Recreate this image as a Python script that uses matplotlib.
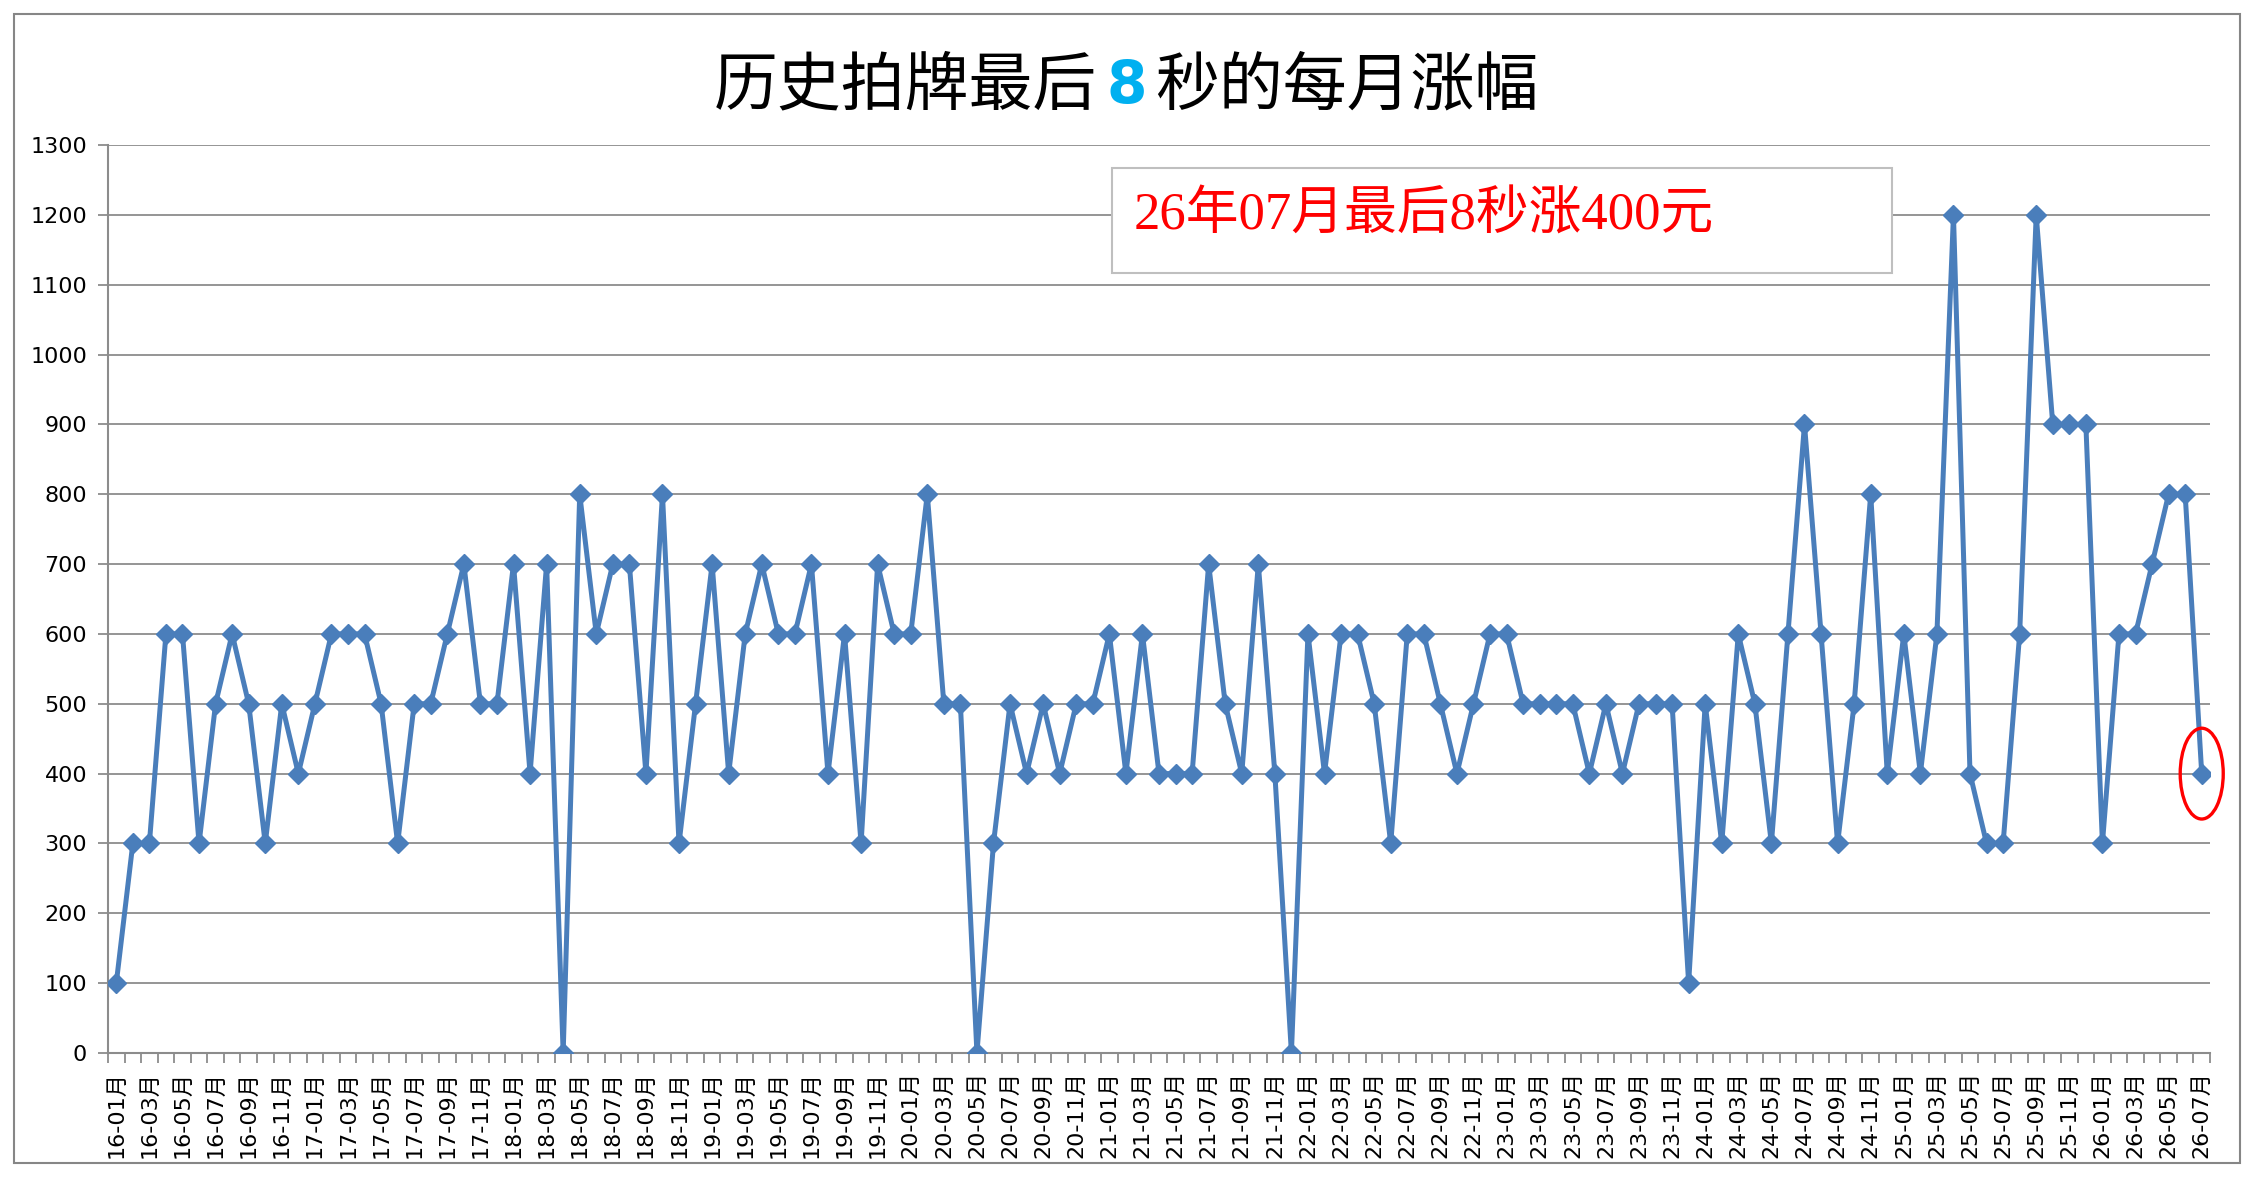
import matplotlib
matplotlib.use("Agg")
import matplotlib.pyplot as plt
from matplotlib.patches import Rectangle, Ellipse
from matplotlib.ticker import FixedLocator

plt.rcParams['font.family'] = ['DejaVu Sans', 'Noto Sans CJK SC']

#----------------------------------------------------
# monthly rise in the last 8 seconds, 2016-01 .. 2026-07
rise = [100, 300, 300, 600, 600, 300, 500, 600, 500, 300, 500, 400,   # 2016
        500, 600, 600, 600, 500, 300, 500, 500, 600, 700, 500, 500,   # 2017
        700, 400, 700, 0, 800, 600, 700, 700, 400, 800, 300, 500,     # 2018
        700, 400, 600, 700, 600, 600, 700, 400, 600, 300, 700, 600,   # 2019
        600, 800, 500, 500, 0, 300, 500, 400, 500, 400, 500, 500,     # 2020
        600, 400, 600, 400, 400, 400, 700, 500, 400, 700, 400, 0,     # 2021
        600, 400, 600, 600, 500, 300, 600, 600, 500, 400, 500, 600,   # 2022
        600, 500, 500, 500, 500, 400, 500, 400, 500, 500, 500, 100,   # 2023
        500, 300, 600, 500, 300, 600, 900, 600, 300, 500, 800, 400,   # 2024
        600, 400, 600, 1200, 400, 300, 300, 600, 1200, 900, 900, 900, # 2025
        300, 600, 600, 700, 800, 800, 400]                            # 2026

months = ["%02d-%02d月" % (y, m) for y in range(16, 27) for m in range(1, 13)]
months = months[:len(rise)]

yticks = list(range(0, 1301, 100))

title_left = "历史拍牌最后"
title_mid = "8"
title_right = "秒的每月涨幅"
note = "26年07月最后8秒涨400元"

W, H = 2256, 1180
fig = plt.figure(figsize=(W / 100, H / 100), dpi=100)

# chart border
fig.patches.append(Rectangle((14 / W, 17 / H), (2240 - 14) / W, (1166 - 17) / H,
                             transform=fig.transFigure, fill=False,
                             edgecolor="#868686", linewidth=1.5))

ax = fig.add_axes([108 / W, 127 / H, (2210 - 108) / W, (1035 - 127) / H])

x = list(range(len(rise)))
ax.plot(x, rise, color="#4A7EBB", linewidth=3.6, marker="D", markersize=10,
        markerfacecolor="#4A7EBB", markeredgecolor="#4A7EBB", zorder=3)

ax.set_xlim(-0.5, len(rise) - 0.5)
ax.set_ylim(0, 1300)
ax.set_yticks(yticks)
ax.set_yticklabels([str(v) for v in yticks], fontsize=16)
ax.yaxis.grid(True, color="#8C8C8C", linewidth=1.3)
ax.set_axisbelow(True)

ax.xaxis.set_major_locator(FixedLocator(x[::2]))
ax.set_xticklabels(months[::2], rotation=90, fontsize=16)
ax.xaxis.set_minor_locator(FixedLocator([i - 0.5 for i in range(len(rise) + 1)]))
ax.tick_params(axis="x", which="major", length=0, pad=13)
ax.tick_params(axis="x", which="minor", length=7, width=1.3, color="#8C8C8C")
ax.tick_params(axis="y", length=7, width=1.3, color="#8C8C8C", pad=8)

for s in ["top", "right"]:
    ax.spines[s].set_visible(False)
for s in ["left", "bottom"]:
    ax.spines[s].set_color("#8C8C8C")
    ax.spines[s].set_linewidth(1.5)

# title in three parts
cx = 1127 / W
ty = 1094 / H
fig.text(cx, ty, title_mid, color="#00B0F0", fontsize=42, fontweight="bold",
         ha="center", va="center")
fig.text(cx - 30 / W, ty, title_left, color="black", fontsize=46,
         family=["Noto Sans CJK SC"], ha="right", va="center")
fig.text(cx + 28 / W, ty, title_right, color="black", fontsize=46,
         family=["Noto Sans CJK SC"], ha="left", va="center")

# annotation box
fig.patches.append(Rectangle((1112 / W, (H - 273) / H), (1892 - 1112) / W, (273 - 168) / H,
                             transform=fig.transFigure, facecolor="white",
                             edgecolor="#BFBFBF", linewidth=1.5, zorder=5))
fig.text(1134 / W, (H - 216) / H, note, color="red", fontsize=38,
         family=["Liberation Serif", "Noto Sans CJK SC"], ha="left", va="center", zorder=6)

# red ring round the last point
ax.add_patch(Ellipse((len(rise) - 1, rise[-1]), 2.6, 130, fill=False,
                     edgecolor="red", linewidth=2.4, clip_on=False, zorder=4))

plt.savefig("out.png", dpi=100)
plt.close()
